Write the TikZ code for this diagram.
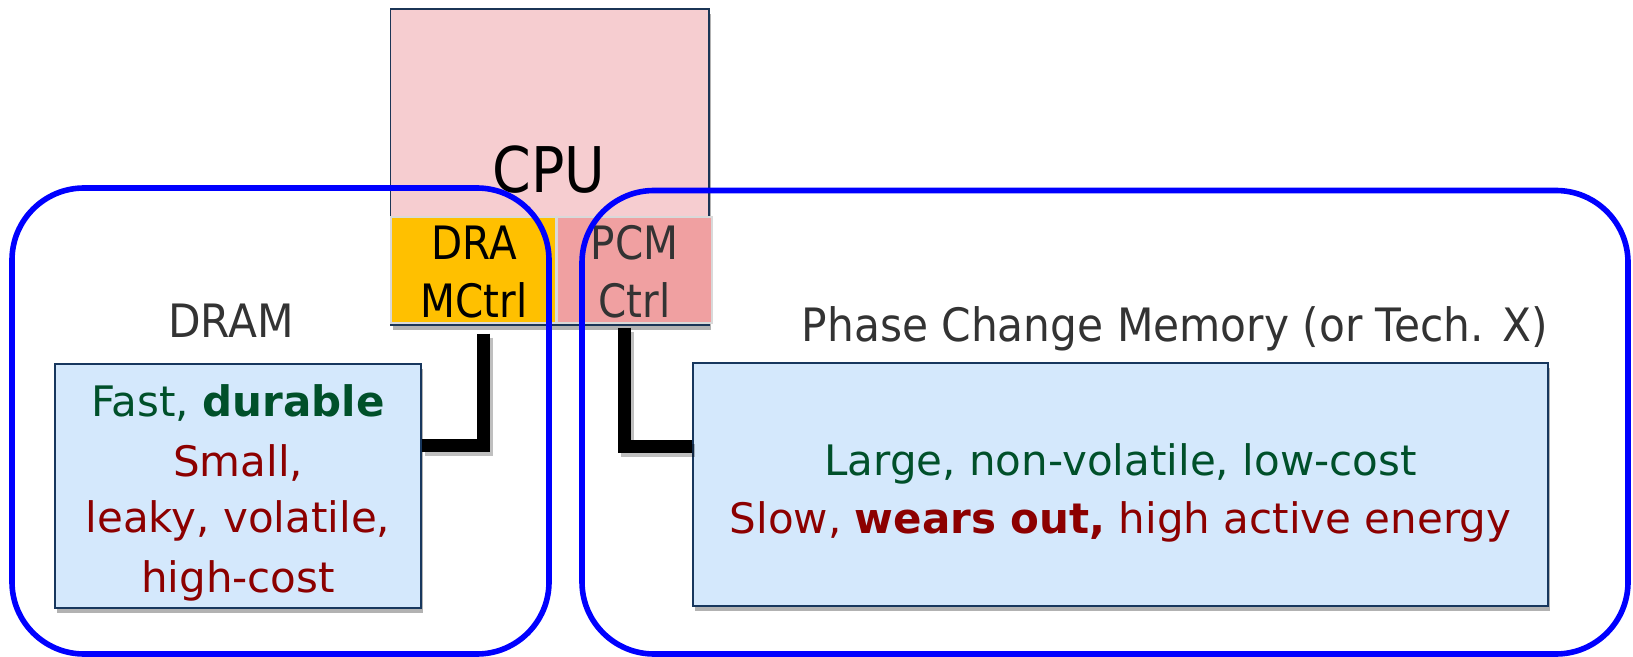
\documentclass[tikz,border=0pt]{standalone}
\usepackage{fontspec}
\setmainfont{DejaVu Sans}
\newfontfamily\tah{DejaVu Sans}[FakeStretch=0.88]
\newfontfamily\tahl{DejaVu Sans}[FakeStretch=0.92]
\usetikzlibrary{shadows}
\definecolor{cpufill}{HTML}{F6CDD0}
\definecolor{cpuline}{HTML}{1B3556}
\definecolor{dramfill}{HTML}{FFC000}
\definecolor{pcmfill}{HTML}{F0A0A1}
\definecolor{memfill}{HTML}{D4E8FC}
\definecolor{memline}{HTML}{17375E}
\definecolor{goodgreen}{HTML}{00502A}
\definecolor{badred}{HTML}{8C0000}
\definecolor{lblgray}{HTML}{333333}
\definecolor{outerblue}{HTML}{0000FF}
\begin{document}
\begin{tikzpicture}[x=0.5pt,y=-0.5pt,
  shad/.style={drop shadow={shadow xshift=1pt,shadow yshift=-2.5pt,opacity=0.3,fill=black}},
  cpubox/.style={rectangle,draw=cpuline,line width=0.8pt,fill=cpufill,inner sep=0pt,shad},
  ctrlbox/.style={rectangle,draw=white!85!black,line width=0.6pt,inner sep=0pt},
  membox/.style={rectangle,draw=memline,line width=1pt,fill=memfill,inner sep=0pt,shad},
  outerbox/.style={rectangle,draw=outerblue,line width=2.8pt,rounded corners=36pt,inner sep=0pt},
  conn/.style={line width=6.5pt,black},
  connshadow/.style={line width=6.5pt,black,opacity=0.25},
  bodytxt/.style={anchor=base,inner sep=0pt,font=\fontsize{21}{25}\selectfont},
  lbltxt/.style={anchor=base,inner sep=0pt,text=lblgray,font=\tahl\fontsize{23}{28}\selectfont},
  ctrltxt/.style={anchor=base,inner sep=0pt,font=\tah\fontsize{23}{28}\selectfont}]
\useasboundingbox (0,0) rectangle (1633,657);

% CPU and controllers
\node[cpubox,minimum width=159.25pt,minimum height=158pt] (cpu) at (549.75,167) {};
\node[ctrlbox,fill=dramfill,minimum width=82.5pt,minimum height=53pt] (dramctrl) at (473.5,270) {};
\node[ctrlbox,fill=pcmfill,minimum width=77.5pt,minimum height=53pt] (pcmctrl) at (634.5,270) {};
\node[anchor=base,inner sep=0pt,font=\tah\fontsize{31.5}{36}\selectfont] (cputxt) at (549,193) {CPU};
\node[ctrltxt] (dra1) at (474,260) {DRA};
\node[ctrltxt] (dra2) at (474,318) {MCtrl};
\node[ctrltxt,text=lblgray] (pcm1) at (634.5,260) {PCM};
\node[ctrltxt,text=lblgray] (pcm2) at (634.5,318) {Ctrl};

% memory boxes
\node[membox,minimum width=183pt,minimum height=122pt] (drambox) at (238,486) {};
\node[membox,minimum width=427.5pt,minimum height=121.5pt] (pcmbox) at (1120.5,484.5) {};

% labels
\node[lbltxt] (dramlbl) at (231,338) {DRAM};
\node[lbltxt,anchor=base east] (pcmlbl) at (1548,342) {Phase Change Memory (or Tech. X)};

% DRAM box text
\node[bodytxt,text=goodgreen] (d1) at (238,417) {Fast, \textbf{durable}};
\node[bodytxt,text=badred] (d2) at (238,477) {Small,};
\node[bodytxt,text=badred] (d3) at (238,532) {leaky, volatile,};
\node[bodytxt,text=badred] (d4) at (238,592) {high-cost};

% PCM box text
\node[bodytxt,text=goodgreen] (p1) at (1120.5,475) {Large, non-volatile, low-cost};
\node[bodytxt,text=badred] (p2) at (1120.5,533) {Slow, \textbf{wears out,} high active energy};

% connectors
\coordinate (dv) at (483,0);
\coordinate (dh) at (0,446);
\coordinate (pv) at (624,0);
\coordinate (ph) at (0,447);
\draw[connshadow,transform canvas={xshift=1.5pt,yshift=-2pt}] (dramctrl.south -| dv) ++(0,10) |- (drambox.east |- dh);
\draw[conn] (dramctrl.south -| dv) ++(0,10) |- (drambox.east |- dh);
\draw[connshadow,transform canvas={xshift=1.5pt,yshift=-2pt}] (pcmctrl.south -| pv) ++(0,4) |- (pcmbox.west |- ph);
\draw[conn] (pcmctrl.south -| pv) ++(0,4) |- (pcmbox.west |- ph);

% outer blue groups
\node[outerbox,minimum width=268.5pt,minimum height=233pt] (dramgroup) at (280.5,421) {};
\node[outerbox,minimum width=523pt,minimum height=231.75pt] (pcmgroup) at (1105,422.25) {};
\end{tikzpicture}
\end{document}
